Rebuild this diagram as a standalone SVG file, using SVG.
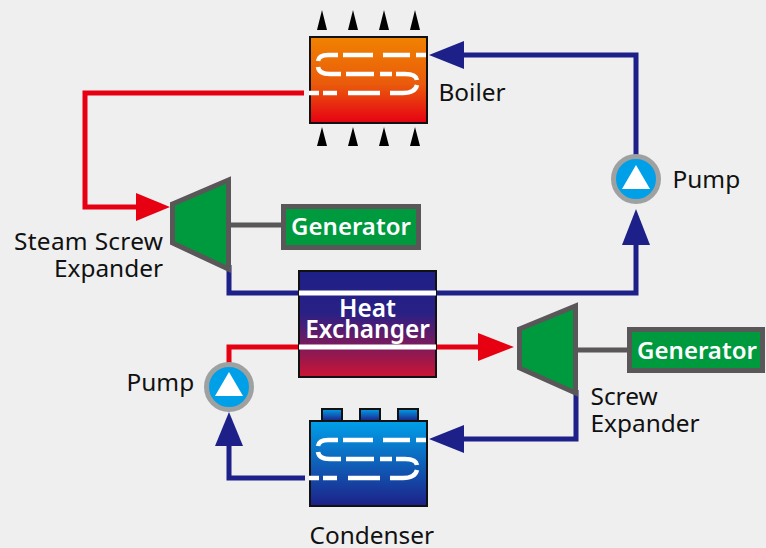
<svg xmlns="http://www.w3.org/2000/svg" width="766" height="548" viewBox="0 0 766 548">
<style>
text{font-family:"Noto Sans","Liberation Sans",sans-serif;font-size:24.4px;fill:#111}
.w{fill:#fff;font-weight:600;text-anchor:middle;font-size:24px}
.blue{fill:none;stroke:#1d2088;stroke-width:5}
.red{fill:none;stroke:#e60012;stroke-width:5}
.gray{fill:none;stroke:#595757;stroke-width:5}
.ba{fill:#1d2088}.ra{fill:#e60012}
.box{stroke:#111;stroke-width:2}
.turb{fill:#009a3e;stroke:#595757;stroke-width:5}
.gen{fill:#009a3e;stroke:#595757;stroke-width:5}
.coil{fill:none;stroke:#fff;stroke-width:4.5}
.pc{fill:#00a0e9;stroke:#9fa0a0;stroke-width:5}
</style>
<defs>
<linearGradient id="gb" x1="0" y1="0" x2="0" y2="1"><stop offset="0" stop-color="#f08300"/><stop offset="0.55" stop-color="#ea5a0c"/><stop offset="1" stop-color="#e60012"/></linearGradient>
<linearGradient id="gc" x1="0" y1="0" x2="0" y2="1"><stop offset="0" stop-color="#00a0e9"/><stop offset="1" stop-color="#1d2088"/></linearGradient>
<linearGradient id="gh" x1="0" y1="0" x2="0" y2="1"><stop offset="0" stop-color="#1d2088"/><stop offset="0.4" stop-color="#2a2085"/><stop offset="1" stop-color="#cc1433"/></linearGradient>
<path id="coil" class="coil" d="M426 55H416M410 55H383M373 55H343M338 55H328Q319 55 318 61M318 67Q319 74 330 74H341M346 74H374M380 74H392M396 74H405Q416 74 417 80M417 85Q415 93 403 93H390M380 93H348M337 93H323M319 93H309"/>
</defs>
<rect width="766" height="548" fill="#efefef"/>
<g id="connectors">
<path class="red" d="M304 93H85V207H140"/>
<polygon class="ra" points="170,207 136,193 136,221"/>
<path class="blue" d="M229 265V293H299M436 293H636V245"/>
<polygon class="ba" points="636,209 622,245 650,245"/>
<path class="blue" d="M636 155V55H464"/>
<polygon class="ba" points="429,55 464,41 464,69"/>
<path class="red" d="M229 363V347H300M436 347H480"/>
<polygon class="ra" points="514,347 478,333 478,361"/>
<path class="blue" d="M576 390V439H464"/>
<polygon class="ba" points="429,439 464,425 464,453"/>
<path class="blue" d="M305 478H229V446"/>
<polygon class="ba" points="229,412 215,446 243,446"/>
<path class="gray" d="M231 225H282M578 350H627"/>
</g>
<g id="boiler">
<path fill="#000" d="M317 30L322 10L327 30ZM348 30L353 10L358 30ZM379 30L384 10L389 30ZM410 30L415 10L420 30ZM317 146L322 127L327 146ZM348 146L353 127L358 146ZM379 146L384 127L389 146ZM410 146L415 127L420 146Z"/>
<rect class="box" x="310" y="37" width="117" height="86" fill="url(#gb)"/>
<use href="#coil"/>
<text x="438.500" y="101">Boiler</text>
</g>
<g id="pump-top">
<circle class="pc" cx="636" cy="179" r="22.5"/>
<polygon fill="#fff" points="636,165 622,189 650,189"/>
<text x="672.500" y="188">Pump</text>
</g>
<g id="steam-screw-expander">
<polygon class="turb" points="172.500,204 228.500,180 228.500,269 172.500,243"/>
<text x="14" y="250" textLength="149">Steam Screw</text>
<text x="163" y="277" text-anchor="end">Expander</text>
</g>
<g id="generator-top">
<rect class="gen" x="283.500" y="206.500" width="135" height="41"/>
<text class="w" x="351" y="235">Generator</text>
</g>
<g id="heat-exchanger">
<rect class="box" x="299" y="271" width="137" height="106" fill="url(#gh)"/>
<rect x="299" y="290.500" width="137" height="5" fill="#fff"/>
<rect x="299" y="344.500" width="137" height="5" fill="#fff"/>
<text class="w" x="367.500" y="317" style="font-size:24.400px">Heat</text>
<text class="w" x="367.500" y="338" style="font-size:24.400px">Exchanger</text>
</g>
<g id="screw-expander">
<polygon class="turb" points="519.500,329 575.500,306 575.500,393 519.500,368"/>
<text x="590.500" y="405">Screw</text>
<text x="590.500" y="432">Expander</text>
</g>
<g id="generator-right">
<rect class="gen" x="629.500" y="329.500" width="133" height="41"/>
<text class="w" x="697" y="359">Generator</text>
</g>
<g id="pump-bottom">
<circle class="pc" cx="229" cy="387" r="22.5"/>
<polygon fill="#fff" points="229,372 215,396 243,396"/>
<text x="126.500" y="391">Pump</text>
</g>
<g id="condenser">
<rect class="box" x="322" y="409" width="20" height="12" fill="url(#gc)"/>
<rect class="box" x="360" y="409" width="20" height="12" fill="url(#gc)"/>
<rect class="box" x="398" y="409" width="20" height="12" fill="url(#gc)"/>
<rect class="box" x="310" y="421" width="117" height="85" fill="url(#gc)"/>
<use href="#coil" y="385"/>
<text x="309.500" y="544">Condenser</text>
</g>
</svg>
